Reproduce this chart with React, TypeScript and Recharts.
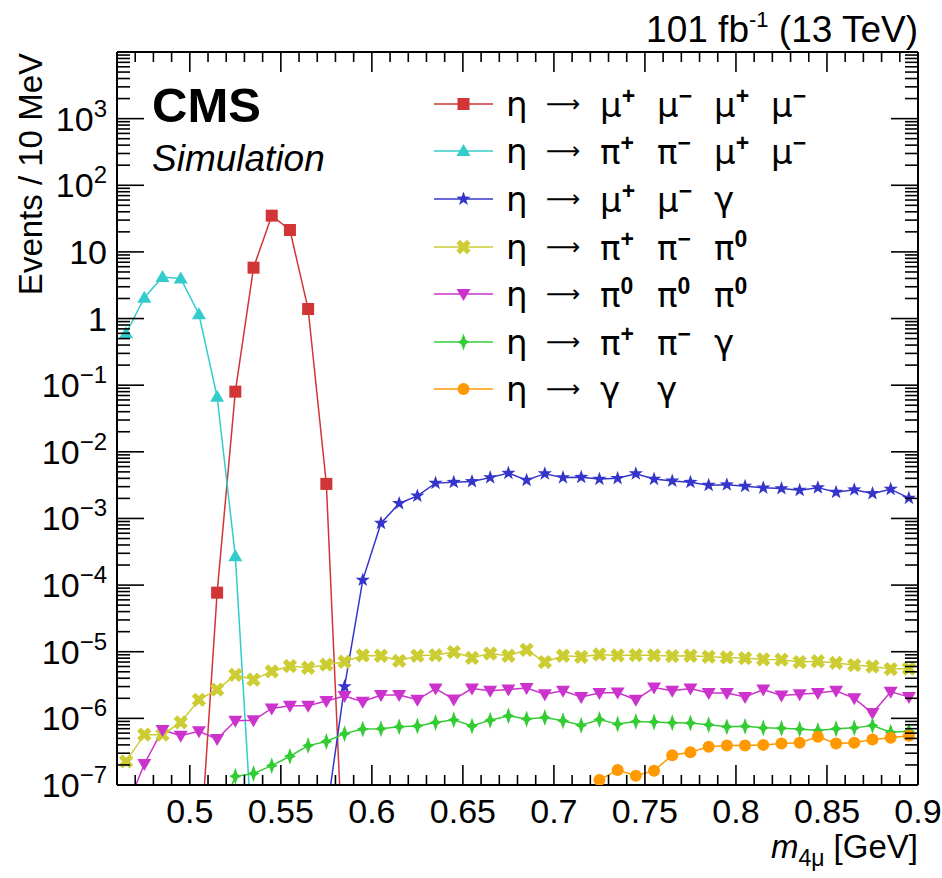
import React from "react";
import { LineChart, Line, XAxis, YAxis, Legend } from "recharts";

// bin centres, 10 MeV bins
const BINS = [
  0.465, 0.475, 0.485, 0.495, 0.505, 0.515, 0.525, 0.535, 0.545, 0.555, 0.565,
  0.575, 0.585, 0.595, 0.605, 0.615, 0.625, 0.635, 0.645, 0.655, 0.665, 0.675,
  0.685, 0.695, 0.705, 0.715, 0.725, 0.735, 0.745, 0.755, 0.765, 0.775, 0.785,
  0.795, 0.805, 0.815, 0.825, 0.835, 0.845, 0.855, 0.865, 0.875, 0.885, 0.895,
];

const ETA_4MU = [
  null, null, null, null, 5.4e-9, 7.7e-5, 0.08, 5.8, 35, 21.3, 1.39,
  3.3e-3, 2.1e-9, null, null, null, null, null, null, null, null, null,
  null, null, null, null, null, null, null, null, null, null, null,
  null, null, null, null, null, null, null, null, null, null, null,
];

const ETA_2PI2MU = [
  0.6, 2.06, 4.2, 4.0, 1.16, 0.067, 2.7e-4, 7.4e-9, null, null, null,
  null, null, null, null, null, null, null, null, null, null, null,
  null, null, null, null, null, null, null, null, null, null, null,
  null, null, null, null, null, null, null, null, null, null, null,
];

const ETA_2MUG = [
  null, null, null, null, null, null, null, null, null, null, null,
  3.5e-8, 3.0e-6, 1.19e-4, 8.5e-4, 1.68e-3, 2.18e-3, 3.39e-3, 3.5e-3, 3.58e-3, 4.1e-3, 4.8e-3,
  3.76e-3, 4.7e-3, 4.1e-3, 4.15e-3, 3.9e-3, 4.0e-3, 4.7e-3, 3.9e-3, 3.66e-3, 3.5e-3, 3.16e-3,
  3.2e-3, 3.05e-3, 2.88e-3, 2.81e-3, 2.66e-3, 2.9e-3, 2.48e-3, 2.7e-3, 2.37e-3, 2.75e-3, 2.02e-3,
];

const ETA_3PI = [
  2.26e-7, 5.7e-7, 5.7e-7, 8.7e-7, 1.9e-6, 2.7e-6, 4.5e-6, 3.8e-6, 5.06e-6, 6.1e-6, 5.75e-6,
  6.4e-6, 7.07e-6, 8.8e-6, 8.7e-6, 7.3e-6, 8.7e-6, 8.9e-6, 9.9e-6, 8.1e-6, 9.4e-6, 8.7e-6,
  1.07e-5, 7.0e-6, 8.7e-6, 8.4e-6, 9.1e-6, 8.8e-6, 8.9e-6, 8.8e-6, 8.6e-6, 8.7e-6, 8.4e-6,
  8.2e-6, 8.0e-6, 7.7e-6, 7.6e-6, 7.0e-6, 7.2e-6, 6.8e-6, 6.3e-6, 6.0e-6, 5.5e-6, 5.6e-6,
];

const ETA_3PI0 = [
  4.3e-8, 2.07e-7, 6.7e-7, 5.5e-7, 6.4e-7, 4.9e-7, 9.2e-7, 9.4e-7, 1.41e-6, 1.55e-6, 1.55e-6,
  1.82e-6, 2.16e-6, 1.78e-6, 2.24e-6, 2.24e-6, 1.9e-6, 2.8e-6, 1.92e-6, 2.8e-6, 2.6e-6, 2.7e-6,
  2.85e-6, 2.3e-6, 2.6e-6, 2.1e-6, 2.4e-6, 2.45e-6, 1.9e-6, 2.9e-6, 2.6e-6, 2.8e-6, 2.4e-6,
  2.4e-6, 2.1e-6, 2.7e-6, 2.2e-6, 2.3e-6, 2.4e-6, 2.6e-6, 2.0e-6, 1.2e-6, 2.5e-6, 2.1e-6,
];

const ETA_2PIG = [
  null, null, null, null, null, 2.7e-8, 1.35e-7, 1.49e-7, 1.95e-7, 2.7e-7, 3.9e-7,
  4.5e-7, 5.9e-7, 6.9e-7, 7.0e-7, 7.5e-7, 7.7e-7, 8.7e-7, 9.5e-7, 7.7e-7, 9.4e-7, 1.09e-6,
  9.8e-7, 1.03e-6, 9.2e-7, 7.9e-7, 9.6e-7, 8.2e-7, 9.0e-7, 8.8e-7, 8.6e-7, 8.5e-7, 8.0e-7,
  7.5e-7, 7.6e-7, 7.2e-7, 7.1e-7, 6.9e-7, 6.6e-7, 7.0e-7, 7.2e-7, 7.8e-7, 6.2e-7, 6.4e-7,
];

const ETA_2G = [
  null, null, null, null, null, null, null, null, null, null, null,
  null, null, null, null, null, null, null, null, null, null, null,
  null, null, null, null, 1.19e-7, 1.68e-7, 1.38e-7, 1.64e-7, 2.8e-7, 3.1e-7, 3.75e-7,
  3.9e-7, 3.9e-7, 4.0e-7, 4.2e-7, 4.3e-7, 5.3e-7, 4.2e-7, 4.3e-7, 4.8e-7, 5.1e-7, 5.5e-7,
];

const X_MAJOR = [0.5, 0.55, 0.6, 0.65, 0.7, 0.75, 0.8, 0.85, 0.9];
const X_LABELS = ["0.5", "0.55", "0.6", "0.65", "0.7", "0.75", "0.8", "0.85", "0.9"];
const Y_EXPONENTS = [-7, -6, -5, -4, -3, -2, -1, 0, 1, 2, 3];

// legend: decay products as [symbol, superscript]
const PRODUCTS_4MU = [["μ", "+"], ["μ", "−"], ["μ", "+"], ["μ", "−"]];
const PRODUCTS_2PI2MU = [["π", "+"], ["π", "−"], ["μ", "+"], ["μ", "−"]];
const PRODUCTS_2MUG = [["μ", "+"], ["μ", "−"], ["γ", ""]];
const PRODUCTS_3PI = [["π", "+"], ["π", "−"], ["π", "0"]];
const PRODUCTS_3PI0 = [["π", "0"], ["π", "0"], ["π", "0"]];
const PRODUCTS_2PIG = [["π", "+"], ["π", "−"], ["γ", ""]];
const PRODUCTS_2G = [["γ", ""], ["γ", ""]];

const W = 942;
const H = 878;
const PLOT_LEFT = 117;
const PLOT_RIGHT = 918;
const PLOT_TOP = 52;
const PLOT_BOTTOM = 785;
const FONT = "'Liberation Sans', Arial, Helvetica, sans-serif";
const GREEK = "'DejaVu Sans', 'Liberation Sans', sans-serif";

const X_TICKS: number[] = [];
for (let i = 1; i <= 44; i++) X_TICKS.push(Math.round((0.46 + i * 0.01) * 100) / 100);
const Y_TICKS: number[] = [];
Y_EXPONENTS.forEach((e) => {
  for (let m = 1; m <= 9; m++) Y_TICKS.push(m * Math.pow(10, e));
});
Y_TICKS.push(1e4);

const data = BINS.map((x, i) => ({
  x,
  eta4mu: ETA_4MU[i],
  eta2pi2mu: ETA_2PI2MU[i],
  eta2mug: ETA_2MUG[i],
  eta3pi: ETA_3PI[i],
  eta3pi0: ETA_3PI0[i],
  eta2pig: ETA_2PIG[i],
  eta2g: ETA_2G[i],
}));

type Shape = "square" | "triUp" | "star5" | "cross" | "triDown" | "star4" | "circle";

const marker = (shape: Shape, cx: number, cy: number, color: string, key?: any) => {
  switch (shape) {
    case "square":
      return <rect key={key} x={cx - 6} y={cy - 6} width={12} height={12} fill={color} />;
    case "triUp":
      return <polygon key={key} points={`${cx},${cy - 7} ${cx - 7},${cy + 5} ${cx + 7},${cy + 5}`} fill={color} />;
    case "triDown":
      return <polygon key={key} points={`${cx - 7},${cy - 5} ${cx + 7},${cy - 5} ${cx},${cy + 7}`} fill={color} />;
    case "circle":
      return <circle key={key} cx={cx} cy={cy} r={6} fill={color} />;
    case "star5": {
      const pts: string[] = [];
      for (let k = 0; k < 10; k++) {
        const r = k % 2 === 0 ? 7.5 : 3;
        const a = -Math.PI / 2 + (k * Math.PI) / 5;
        pts.push(`${cx + r * Math.cos(a)},${cy + r * Math.sin(a)}`);
      }
      return <polygon key={key} points={pts.join(" ")} fill={color} />;
    }
    case "star4":
      return (
        <polygon
          key={key}
          points={`${cx},${cy - 8.5} ${cx + 2.2},${cy - 2.2} ${cx + 6},${cy} ${cx + 2.2},${cy + 2.2} ${cx},${cy + 8.5} ${cx - 2.2},${cy + 2.2} ${cx - 6},${cy} ${cx - 2.2},${cy - 2.2}`}
          fill={color}
        />
      );
    case "cross": {
      const w = 2.6;
      const r = 7.5;
      const p = [[-w, -r], [w, -r], [w, -w], [r, -w], [r, w], [w, w], [w, r], [-w, r], [-w, w], [-r, w], [-r, -w], [-w, -w]];
      return (
        <polygon
          key={key}
          transform={`translate(${cx},${cy}) rotate(45)`}
          points={p.map((q) => q.join(",")).join(" ")}
          fill={color}
        />
      );
    }
  }
  return null;
};

const SERIES: { key: string; color: string; shape: Shape; products: string[][] }[] = [
  { key: "eta4mu", color: "#d13535", shape: "square", products: PRODUCTS_4MU },
  { key: "eta2pi2mu", color: "#33cccc", shape: "triUp", products: PRODUCTS_2PI2MU },
  { key: "eta2mug", color: "#3535cc", shape: "star5", products: PRODUCTS_2MUG },
  { key: "eta3pi", color: "#cccc33", shape: "cross", products: PRODUCTS_3PI },
  { key: "eta3pi0", color: "#cc33cc", shape: "triDown", products: PRODUCTS_3PI0 },
  { key: "eta2pig", color: "#33cc33", shape: "star4", products: PRODUCTS_2PIG },
  { key: "eta2g", color: "#ff9900", shape: "circle", products: PRODUCTS_2G },
];

const isMajorX = (v: number) => X_MAJOR.findIndex((m) => Math.abs(m - v) < 1e-6);

const BottomTick = (props: any) => {
  const { x, payload } = props;
  const idx = isMajorX(payload.value);
  return (
    <g>
      <line x1={x} x2={x} y1={PLOT_BOTTOM} y2={PLOT_BOTTOM - (idx >= 0 ? 20 : 10)} stroke="#000" strokeWidth={1.6} />
      {idx >= 0 && (
        <text x={x} y={PLOT_BOTTOM + 38} textAnchor="middle" fontSize={34} fontFamily={FONT} fill="#000">
          {X_LABELS[idx]}
        </text>
      )}
    </g>
  );
};

const TopTick = (props: any) => {
  const { x, payload } = props;
  const major = isMajorX(payload.value) >= 0;
  return <line x1={x} x2={x} y1={PLOT_TOP} y2={PLOT_TOP + (major ? 20 : 10)} stroke="#000" strokeWidth={1.6} />;
};

const yInfo = (v: number) => {
  const e = Math.round(Math.log10(v));
  return { e, major: Math.abs(v - Math.pow(10, e)) / v < 1e-6 };
};

const LeftTick = (props: any) => {
  const { y, payload } = props;
  const { e, major } = yInfo(payload.value);
  let label: React.ReactNode = null;
  if (major && e <= 3) {
    label = (
      <text x={107} y={y + 12} textAnchor="end" fontSize={34} fontFamily={FONT} fill="#000">
        {e === 0 ? "1" : e === 1 ? "10" : (
          <>
            <tspan>10</tspan>
            <tspan fontSize={24} dy={-14}>{e < 0 ? `−${-e}` : `${e}`}</tspan>
          </>
        )}
      </text>
    );
  }
  return (
    <g>
      <line x1={PLOT_LEFT} x2={PLOT_LEFT + (major ? 27 : 13)} y1={y} y2={y} stroke="#000" strokeWidth={1.6} />
      {label}
    </g>
  );
};

const RightTick = (props: any) => {
  const { y, payload } = props;
  const { major } = yInfo(payload.value);
  return <line x1={PLOT_RIGHT} x2={PLOT_RIGHT - (major ? 27 : 13)} y1={y} y2={y} stroke="#000" strokeWidth={1.6} />;
};

const LegendBox = () => (
  <div style={{ fontFamily: GREEK, color: "#000" }}>
    {SERIES.map((s) => (
      <div key={s.key} style={{ height: 47.6, display: "flex", alignItems: "center" }}>
        <svg width={72} height={30} style={{ flex: "none" }}>
          <line x1={0} x2={59} y1={15} y2={15} stroke={s.color} strokeWidth={1.5} />
          {marker(s.shape, 29.5, 15, s.color)}
        </svg>
        <span style={{ display: "inline-block", width: 40, fontSize: 34 }}>η</span>
        <span style={{ display: "inline-block", width: 54, fontSize: 24, lineHeight: "30px" }}>⟶</span>
        {s.products.map((p, i) => (
          <span key={i} style={{ display: "inline-block", width: 57, fontSize: 34 }}>
            {p[0]}
            {p[1] && (
              <sup style={{ fontSize: 23, fontWeight: "bold", fontFamily: FONT, verticalAlign: 13 }}>{p[1]}</sup>
            )}
          </span>
        ))}
      </div>
    ))}
  </div>
);

export default function App() {
  return (
    <div style={{ position: "absolute", left: 0, top: 0, width: W, height: H, background: "#fff" }}>
      <LineChart width={W} height={H} data={data} margin={{ top: 0, right: 0, bottom: 0, left: 0 }}>
        <XAxis
          xAxisId="b"
          dataKey="x"
          type="number"
          domain={[0.46, 0.9]}
          allowDataOverflow
          ticks={X_TICKS}
          interval={0}
          height={H - PLOT_BOTTOM}
          tickLine={false}
          axisLine={{ stroke: "#000", strokeWidth: 2 }}
          tick={BottomTick}
        />
        <XAxis
          xAxisId="t"
          orientation="top"
          dataKey="x"
          type="number"
          domain={[0.46, 0.9]}
          allowDataOverflow
          ticks={X_TICKS}
          interval={0}
          height={PLOT_TOP}
          tickLine={false}
          axisLine={{ stroke: "#000", strokeWidth: 2 }}
          tick={TopTick}
        />
        <YAxis
          yAxisId="l"
          type="number"
          scale="log"
          domain={[1e-7, 1e4]}
          allowDataOverflow
          ticks={Y_TICKS}
          interval={0}
          width={PLOT_LEFT}
          tickLine={false}
          axisLine={{ stroke: "#000", strokeWidth: 2 }}
          tick={LeftTick}
        />
        <YAxis
          yAxisId="r"
          orientation="right"
          type="number"
          scale="log"
          domain={[1e-7, 1e4]}
          allowDataOverflow
          ticks={Y_TICKS}
          interval={0}
          width={W - PLOT_RIGHT}
          tickLine={false}
          axisLine={{ stroke: "#000", strokeWidth: 2 }}
          tick={RightTick}
        />
        {SERIES.map((s) => (
          <Line
            key={s.key}
            xAxisId="b"
            yAxisId="l"
            dataKey={s.key}
            stroke={s.color}
            strokeWidth={1.5}
            isAnimationActive={false}
            dot={(p: any) => {
              if (p.cx == null || p.cy == null || p.value == null) return <g key={`${s.key}-${p.index}`} />;
              return marker(s.shape, p.cx, p.cy, s.color, `${s.key}-${p.index}`);
            }}
            activeDot={false}
          />
        ))}
        <Legend
          layout="vertical"
          align="center"
          verticalAlign="middle"
          wrapperStyle={{ left: 434, top: 80, width: 500, height: 340 }}
          content={LegendBox}
        />
      </LineChart>
      <svg width={W} height={H} style={{ position: "absolute", left: 0, top: 0, pointerEvents: "none" }}>
        <text x={PLOT_RIGHT} y={42} textAnchor="end" fontSize={37} fontFamily={FONT} fill="#000">
          101 fb<tspan fontSize={22} dy={-15}>-1</tspan>
          <tspan dy={15}> (13 TeV)</tspan>
        </text>
        <text x={152} y={122} fontSize={49} fontWeight="bold" fontFamily={FONT} fill="#000">CMS</text>
        <text x={152} y={171} fontSize={37} fontStyle="italic" fontFamily={FONT} fill="#000">Simulation</text>
        <text transform="translate(42,53) rotate(-90)" textAnchor="end" fontSize={33} fontFamily={FONT} fill="#000">
          Events / 10 MeV
        </text>
        <text x={PLOT_RIGHT} y={858} textAnchor="end" fontSize={33} fontFamily={FONT} fill="#000">
          <tspan fontStyle="italic">m</tspan>
          <tspan fontSize={23} dy={8}>4μ</tspan>
          <tspan dy={-8}> [GeV]</tspan>
        </text>
      </svg>
    </div>
  );
}
